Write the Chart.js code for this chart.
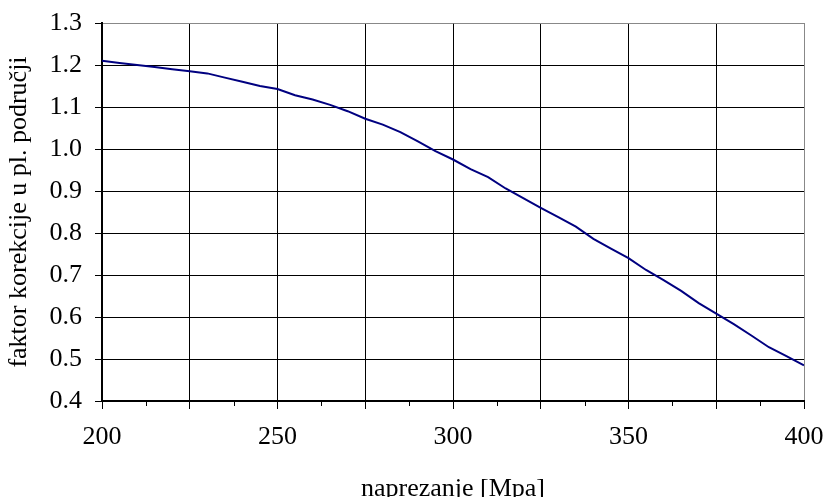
<!DOCTYPE html>
<html>
<head>
<meta charset="utf-8">
<script src="https://cdn.jsdelivr.net/npm/chart.js@4/dist/chart.umd.min.js"></script>
<style>
  body { margin: 0; background: #fff; }
  #c { display: block; }
</style>
</head>
<body>
<canvas id="c" width="825" height="497"></canvas>
<script>
// naprezanje [Mpa]
var stress = [200, 205, 210, 215, 220, 225, 230, 235, 240, 245, 250, 255, 260, 265, 270, 275, 280, 285, 290, 295,
              300, 305, 310, 315, 320, 325, 330, 335, 340, 345, 350, 355, 360, 365, 370, 375, 380, 385, 390, 395, 400];
// faktor korekcije
var factor = [1.21, 1.205, 1.20, 1.195, 1.19, 1.185, 1.18, 1.17, 1.16, 1.15, 1.143, 1.128, 1.118, 1.105, 1.09, 1.072, 1.058, 1.04, 1.018, 0.995,
              0.975, 0.952, 0.933, 0.906, 0.883, 0.86, 0.838, 0.815, 0.786, 0.763, 0.74, 0.712, 0.688, 0.662, 0.633, 0.608, 0.583, 0.556, 0.528, 0.507, 0.485];
var xTitle = 'naprezanje [Mpa]';
var yTitle = 'faktor korekcije u pl. područji';
var minorTicks = [212.5, 237.5, 262.5, 287.5, 312.5, 337.5, 362.5, 387.5];

var points = stress.map(function(x, i){ return {x: x, y: factor[i]}; });
var font = {family: "'Liberation Serif', 'Times New Roman', serif", size: 26};

// small ticks between the gridlines on the x axis
var minorTickPlugin = {
  id: 'minorTicks',
  afterDraw: function(chart){
    var sx = chart.scales.x, ctx = chart.ctx;
    ctx.save();
    ctx.strokeStyle = '#000';
    ctx.lineWidth = 1;
    minorTicks.forEach(function(v){
      var px = Math.round(sx.getPixelForValue(v)) + 0.5;
      ctx.beginPath();
      ctx.moveTo(px, sx.top);
      ctx.lineTo(px, sx.top + 5);
      ctx.stroke();
    });
    ctx.restore();
  }
};

new Chart(document.getElementById('c').getContext('2d'), {
  type: 'line',
  data: {
    datasets: [{
      data: points,
      borderColor: '#000080',
      borderWidth: 2,
      pointRadius: 0,
      tension: 0,
      fill: false
    }]
  },
  options: {
    responsive: false,
    animation: false,
    devicePixelRatio: 1,
    layout: { padding: { top: 23, right: 21, bottom: 0, left: 0 } },
    plugins: { legend: { display: false }, tooltip: { enabled: false } },
    scales: {
      x: {
        type: 'linear',
        min: 200, max: 400,
        afterFit: function(s){ s.height = 96; s.paddingLeft = 0; s.paddingRight = 0; },
        border: { color: '#000', width: 2 },
        grid: {
          color: function(c){ return c.tick && c.tick.value === 400 ? '#888' : '#000'; },
          lineWidth: 1,
          tickLength: 8,
          tickColor: '#000'
        },
        ticks: {
          stepSize: 25,
          autoSkip: false,
          maxRotation: 0,
          padding: 13,
          color: '#000',
          font: font,
          callback: function(v){ return v % 50 === 0 ? String(v) : ''; }
        },
        title: { display: true, text: xTitle, color: '#000', font: font, padding: { top: 0, bottom: -8 } }
      },
      y: {
        min: 0.4, max: 1.3,
        afterFit: function(s){ s.width = 102; s.paddingTop = 0; s.paddingBottom = 0; },
        border: { color: '#000', width: 2 },
        grid: {
          color: function(c){ return c.tick && Math.abs(c.tick.value - 1.3) < 1e-6 ? '#888' : '#000'; },
          lineWidth: 1,
          tickLength: 7,
          tickColor: '#000'
        },
        ticks: {
          stepSize: 0.1,
          padding: 13,
          color: '#000',
          font: font,
          callback: function(v){ return Number(v).toFixed(1); }
        },
        title: { display: true, text: yTitle, color: '#000', font: font, padding: { top: 4, bottom: 0 } }
      }
    }
  },
  plugins: [minorTickPlugin]
});
</script>
</body>
</html>
